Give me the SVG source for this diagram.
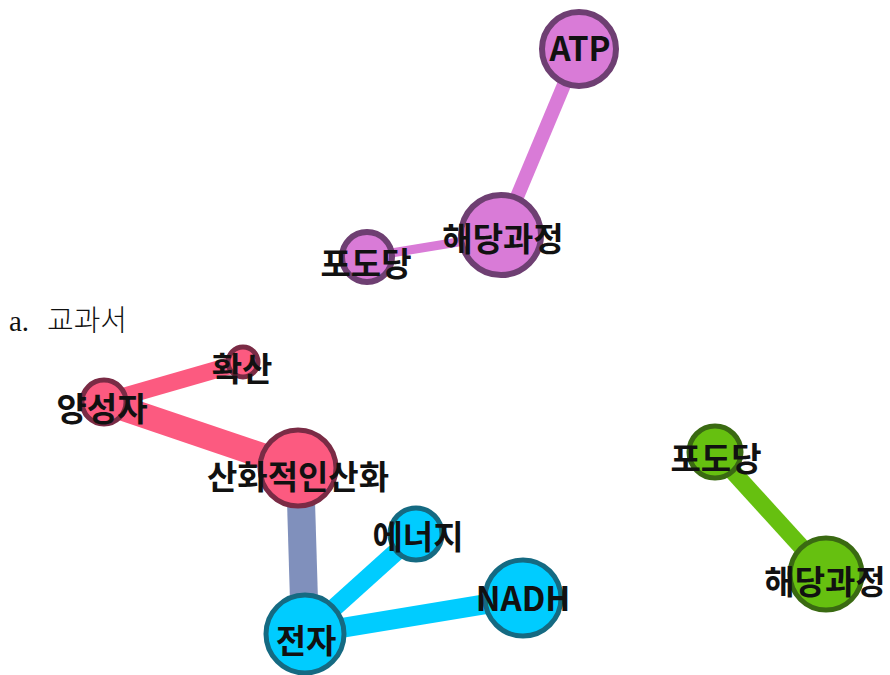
<svg xmlns="http://www.w3.org/2000/svg" width="890" height="675" viewBox="0 0 890 675">
  <style>
    .lbl { font-family: "Noto Sans CJK KR", "Noto Sans", sans-serif; font-weight: 700; font-size: 33px; fill: #111; text-anchor: middle; }
    .title { font-family: "Liberation Serif", "Noto Sans CJK KR", serif; font-weight: 300; font-size: 29px; fill: #111; }
    .purple circle { fill: #D97BD7; stroke: #6E3F72; stroke-width: 6; }
    .pink circle { fill: #FC5A80; stroke: #7A2B45; stroke-width: 5; }
    .cyan circle { fill: #00CCFF; stroke: #156A82; stroke-width: 5; }
    .green circle { fill: #66C010; stroke: #3A6A12; stroke-width: 5; }
    line { stroke-linecap: butt; }
  </style>
  <rect width="890" height="675" fill="#ffffff"/>

  <text class="title" x="9" y="331">a.</text>
  <text class="title" x="47" y="331">교과서</text>

  <g id="connectors">
    <!-- purple cluster -->
    <line x1="579" y1="49" x2="501" y2="235" stroke="#D97BD7" stroke-width="14"/>
    <line x1="367" y1="257" x2="501" y2="235" stroke="#D97BD7" stroke-width="9"/>
    <!-- pink cluster -->
    <line x1="104" y1="402" x2="243" y2="362" stroke="#FC5A80" stroke-width="17"/>
    <line x1="104" y1="402" x2="299" y2="468" stroke="#FC5A80" stroke-width="25"/>
    <!-- bridge -->
    <line x1="300" y1="468" x2="305" y2="634" stroke="#8090BC" stroke-width="28"/>
    <!-- cyan cluster -->
    <line x1="305" y1="634" x2="416" y2="534" stroke="#00CCFF" stroke-width="18"/>
    <line x1="305" y1="634" x2="523" y2="598" stroke="#00CCFF" stroke-width="20"/>
    <!-- green cluster -->
    <line x1="715" y1="452" x2="826" y2="574" stroke="#66C010" stroke-width="17"/>
  </g>

  <g id="n-atp" class="purple"><circle cx="579" cy="49" r="37"/><text class="lbl" x="580" y="61">ATP</text></g>
  <g id="n-glycolysis-a" class="purple"><circle cx="501" cy="235" r="40"/><text class="lbl" x="503" y="251">해당과정</text></g>
  <g id="n-glucose-a" class="purple"><circle cx="367" cy="257" r="25"/><text class="lbl" x="366" y="276">포도당</text></g>

  <g id="n-diffusion" class="pink"><circle cx="243" cy="362" r="15"/><text class="lbl" x="242" y="381">확산</text></g>
  <g id="n-proton" class="pink"><circle cx="104" cy="402" r="22"/><text class="lbl" x="102" y="421">양성자</text></g>
  <g id="n-oxphos" class="pink"><circle cx="298" cy="468" r="38"/><text class="lbl" x="298" y="489">산화적인산화</text></g>

  <g id="n-energy" class="cyan"><circle cx="416" cy="534" r="26"/><text class="lbl" x="418" y="549">에너지</text></g>
  <g id="n-nadh" class="cyan"><circle cx="523" cy="598" r="38"/><text class="lbl" x="523" y="611">NADH</text></g>
  <g id="n-electron" class="cyan"><circle cx="305" cy="634" r="39"/><text class="lbl" x="306" y="653">전자</text></g>

  <g id="n-glucose-b" class="green"><circle cx="715" cy="452" r="26"/><text class="lbl" x="716" y="471">포도당</text></g>
  <g id="n-glycolysis-b" class="green"><circle cx="826" cy="574" r="36"/><text class="lbl" x="825" y="594">해당과정</text></g>
</svg>
